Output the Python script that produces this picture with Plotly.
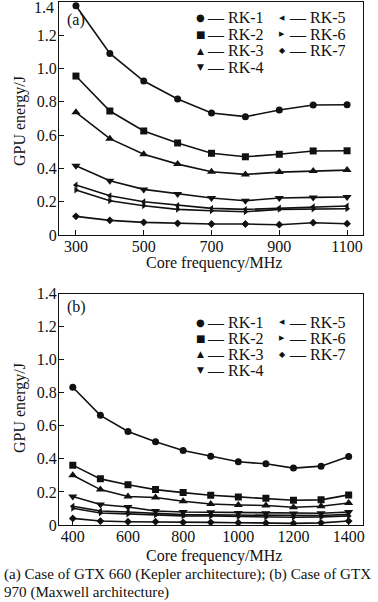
import plotly.graph_objects as go

# ---------------- data ----------------
freq_a = [300, 400, 500, 600, 700, 800, 900, 1000, 1100]
rk_a = {
    "RK-1": [1.377, 1.091, 0.925, 0.817, 0.733, 0.711, 0.751, 0.781, 0.783],
    "RK-2": [0.955, 0.745, 0.625, 0.553, 0.491, 0.470, 0.485, 0.505, 0.506],
    "RK-3": [0.737, 0.579, 0.485, 0.426, 0.380, 0.364, 0.378, 0.384, 0.390],
    "RK-4": [0.416, 0.326, 0.274, 0.246, 0.222, 0.206, 0.222, 0.226, 0.228],
    "RK-5": [0.300, 0.236, 0.200, 0.178, 0.160, 0.154, 0.162, 0.170, 0.174],
    "RK-6": [0.270, 0.206, 0.176, 0.154, 0.146, 0.140, 0.154, 0.156, 0.158],
    "RK-7": [0.112, 0.088, 0.076, 0.070, 0.066, 0.066, 0.062, 0.074, 0.068],
}

freq_b = [400, 500, 600, 700, 800, 900, 1000, 1100, 1200, 1300, 1400]
rk_b = {
    "RK-1": [0.833, 0.663, 0.566, 0.503, 0.451, 0.416, 0.382, 0.370, 0.344, 0.356, 0.415],
    "RK-2": [0.362, 0.279, 0.243, 0.214, 0.196, 0.180, 0.170, 0.162, 0.150, 0.152, 0.182],
    "RK-3": [0.301, 0.214, 0.172, 0.166, 0.144, 0.127, 0.121, 0.118, 0.107, 0.113, 0.133],
    "RK-4": [0.172, 0.124, 0.109, 0.085, 0.079, 0.077, 0.073, 0.071, 0.069, 0.071, 0.079],
    "RK-5": [0.113, 0.085, 0.079, 0.069, 0.063, 0.061, 0.059, 0.057, 0.055, 0.057, 0.065],
    "RK-6": [0.101, 0.073, 0.067, 0.061, 0.055, 0.054, 0.051, 0.049, 0.047, 0.049, 0.055],
    "RK-7": [0.040, 0.024, 0.020, 0.020, 0.016, 0.016, 0.014, 0.012, 0.010, 0.013, 0.024],
}

y_ticks = [0, 0.2, 0.4, 0.6, 0.8, 1.0, 1.2, 1.4]
y_ticktext = ["0", "0.2", "0.4", "0.6", "0.8", "1.0", "1.2", "1.4"]
x_ticks_a = [300, 500, 700, 900, 1100]
x_ticks_b = [400, 600, 800, 1000, 1200, 1400]

x_title = "Core frequency/MHz"
y_title = "GPU energy/J"
caption_1 = "(a) Case of GTX 660 (Kepler architecture); (b) Case of GTX"
caption_2 = "970 (Maxwell architecture)"

# ---------------- styles ----------------
FONT = "Liberation Serif, Times New Roman, serif"
GLYPH_FONT = "DejaVu Sans"
INK = "#111111"
symbols = {
    "RK-1": ("circle", 7, "\u25CF", 10),
    "RK-2": ("square", 7, "\u25A0", 10),
    "RK-3": ("triangle-up", 8, "\u25B2", 9),
    "RK-4": ("triangle-down", 8, "\u25BC", 9),
    "RK-5": ("triangle-left", 6, "\u25C0", 7),
    "RK-6": ("triangle-right", 6, "\u25B6", 7),
    "RK-7": ("diamond", 6, "\u25C6", 8),
}
names = list(rk_a.keys())

fig = go.Figure()

for name, vals in rk_a.items():
    sym, size, _, _ = symbols[name]
    fig.add_trace(go.Scatter(
        x=freq_a, y=vals, name=name, mode="lines+markers",
        line=dict(color=INK, width=1.6),
        marker=dict(symbol=sym, size=size, color=INK),
        xaxis="x", yaxis="y", showlegend=False,
    ))

for name, vals in rk_b.items():
    sym, size, _, _ = symbols[name]
    fig.add_trace(go.Scatter(
        x=freq_b, y=vals, name=name, mode="lines+markers",
        line=dict(color=INK, width=1.6),
        marker=dict(symbol=sym, size=size, color=INK),
        xaxis="x2", yaxis="y2", showlegend=False,
    ))

# pixel helpers for layout (plot area: x 59..363, y 2..524.7)
L, R, T, B = 59, 15, 2, 77
W, H = 378, 602
PW, PH = W - L - R, H - T - B


def px_x(p):
    return (p - L) / PW


def px_y(p):
    return (H - B - p) / PH


axis_common = dict(
    showline=True, linecolor=INK, linewidth=1, mirror=True,
    ticks="inside", ticklen=5, tickwidth=1, tickcolor=INK,
    showgrid=False, zeroline=False, automargin=False,
    ticklabeloverflow="allow",
    tickfont=dict(family=FONT, size=16, color=INK),
)

# top panel: the "1.4" label sits at the page edge, so it is drawn just below its tick
top_ticktext = y_ticktext[:-1] + [""]

fig.update_layout(
    width=W, height=H,
    margin=dict(l=L, r=R, t=T, b=B),
    paper_bgcolor="white", plot_bgcolor="white",
    font=dict(family=FONT, size=15, color=INK),
    showlegend=False,
    xaxis=dict(axis_common, domain=[0, 1], range=[250, 1147], anchor="y",
               tickvals=x_ticks_a, ticklabelstandoff=-3),
    yaxis=dict(axis_common, domain=[px_y(235), 1], range=[0, 1.4], anchor="x",
               tickvals=y_ticks, ticktext=top_ticktext, ticklabelstandoff=-2),
    xaxis2=dict(axis_common, domain=[0, 1], range=[350, 1452], anchor="y2",
                tickvals=x_ticks_b, ticklabelstandoff=-3),
    yaxis2=dict(axis_common, domain=[0, px_y(293.5)], range=[0, 1.4], anchor="x2",
                tickvals=y_ticks, ticktext=y_ticktext, ticklabelstandoff=-2),
)


def paper_text(text, x, y, size=16, xanchor="center", angle=0, family=FONT):
    return dict(text=text, x=px_x(x), y=px_y(y), xref="paper", yref="paper",
                xanchor=xanchor, yanchor="middle", showarrow=False, textangle=angle,
                font=dict(family=family, size=size, color=INK))


annotations = [
    paper_text(y_ticktext[-1], 56, 7, xanchor="right"),
    paper_text("(a)", 65, 20, xanchor="left"),
    paper_text("(b)", 65, 307, xanchor="left"),
    paper_text(x_title, 214, 263),
    paper_text(x_title, 214, 556),
    paper_text(y_title, 20, 121, angle=-90),
    paper_text(y_title, 20, 408, angle=-90),
    paper_text(caption_1, 2, 574, size=15.1, xanchor="left"),
    paper_text(caption_2, 2, 592, size=15.1, xanchor="left"),
]

# legend keys as text: glyph, dash, series name (two columns, per panel)
legend_rows_a = [18, 34, 51, 67]
legend_rows_b = [322, 338, 354, 370]
col_x = [(200, 205), (282, 287)]
for rows in (legend_rows_a, legend_rows_b):
    for i, name in enumerate(names):
        col = 0 if i < 4 else 1
        row = rows[i if i < 4 else i - 4]
        _, _, glyph, gsize = symbols[name]
        gx, tx = col_x[col]
        annotations.append(paper_text(glyph, gx, row, size=gsize, family=GLYPH_FONT))
        annotations.append(paper_text("\u2014 " + name, tx, row, size=16, xanchor="left"))

fig.update_layout(annotations=annotations)

fig.write_html(
    "out.html",
    config={"displayModeBar": False},
    post_script="document.body.style.margin='0';document.body.style.overflow='hidden';",
)
